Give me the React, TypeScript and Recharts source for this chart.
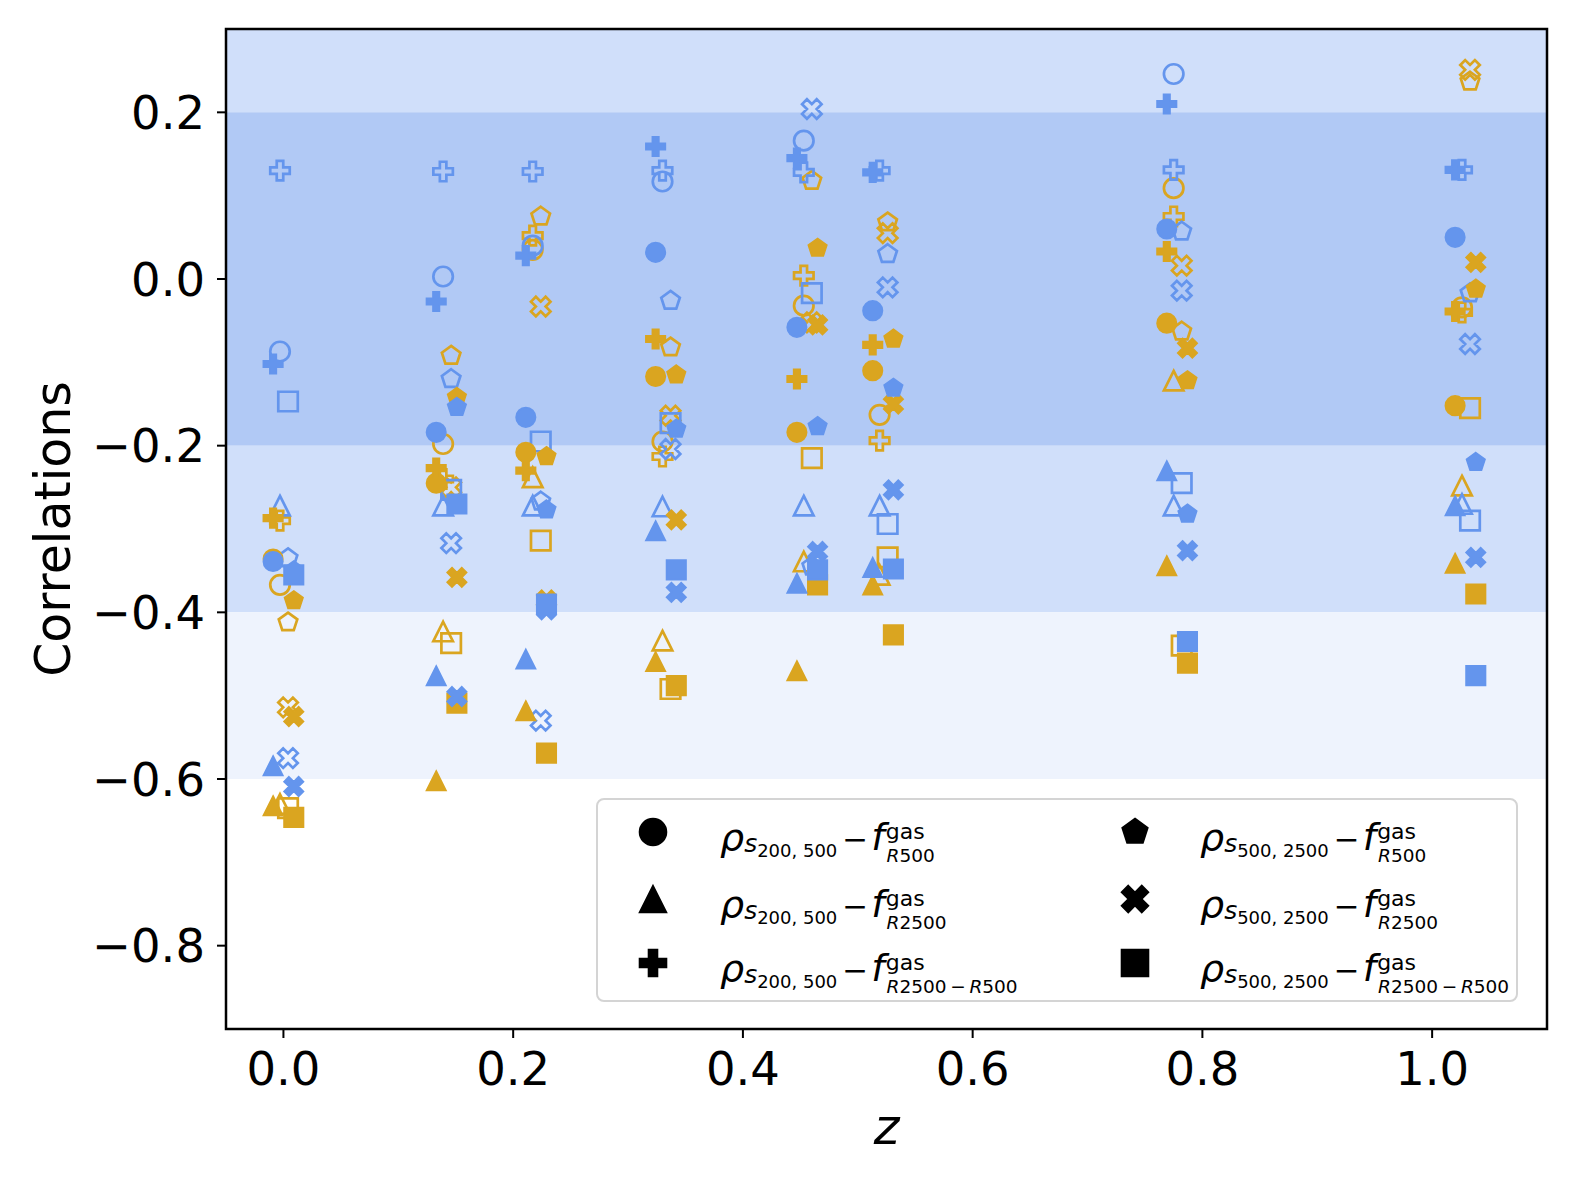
import { ScatterChart, Scatter, XAxis, YAxis, ReferenceArea, Legend } from "recharts"

const BLUE = "#6495ED"
const GOLD = "#DAA520"
const FONT = "DejaVu Sans"

// snapshot redshifts (x positions of the groups)
const redshifts = [0, 0.142, 0.22, 0.333, 0.456, 0.522, 0.778, 1.029]

// marker kinds, in legend order
const shapes = ["circle", "triangle", "plus", "pentagon", "x", "square"]
// small horizontal dodge so the symbols do not sit on top of each other
const dodgeFilled = [-0.009, -0.009, -0.009, 0.009, 0.009, 0.009]
const dodgeHollow = [-0.003, -0.003, -0.003, 0.004, 0.004, 0.004]

// blue, filled
const bfCircle = [-0.339, -0.184, -0.166, 0.032, -0.058, -0.038, 0.06, 0.05]
const bfTriangle = [-0.584, -0.476, -0.456, -0.302, -0.365, -0.346, -0.23, -0.272]
const bfPlus = [-0.102, -0.027, 0.028, 0.159, 0.145, 0.128, 0.21, 0.131]
const bfPentagon = [-0.35, -0.154, -0.277, -0.18, -0.177, -0.131, -0.282, -0.22]
const bfX = [-0.609, -0.501, -0.397, -0.376, -0.327, -0.253, -0.326, -0.334]
const bfSquare = [-0.355, -0.27, -0.39, -0.349, -0.349, -0.348, -0.435, -0.476]

// blue, hollow (null: not visible in the figure)
const bhCircle = [-0.087, 0.003, 0.04, 0.117, 0.166, null, 0.246, null]
const bhTriangle = [-0.272, -0.272, -0.272, -0.273, -0.272, -0.272, -0.272, -0.27]
const bhPlus = [0.13, 0.129, 0.129, 0.13, 0.128, 0.13, 0.131, 0.131]
const bhPentagon = [-0.335, -0.12, -0.267, -0.026, -0.345, 0.03, 0.057, -0.017]
const bhX = [-0.575, -0.317, -0.53, -0.204, 0.204, -0.01, -0.014, -0.078]
const bhSquare = [-0.147, -0.253, -0.195, -0.173, -0.017, -0.294, -0.245, -0.29]

// gold, filled
const gfCircle = [-0.336, -0.245, -0.208, -0.117, -0.184, -0.11, -0.053, -0.152]
const gfTriangle = [-0.632, -0.602, -0.518, -0.459, -0.47, -0.367, -0.344, -0.341]
const gfPlus = [-0.287, -0.227, -0.23, -0.072, -0.12, -0.079, 0.033, -0.039]
const gfPentagon = [-0.386, -0.142, -0.213, -0.115, 0.037, -0.072, -0.122, -0.012]
const gfX = [-0.525, -0.358, -0.385, -0.289, -0.055, -0.15, -0.083, 0.02]
const gfSquare = [-0.646, -0.509, -0.569, -0.488, -0.367, -0.427, -0.461, -0.378]

// gold, hollow
const ghCircle = [-0.367, -0.198, 0.035, -0.195, -0.032, -0.163, 0.109, -0.034]
const ghTriangle = [-0.63, -0.423, -0.238, -0.434, -0.339, -0.355, -0.122, -0.248]
const ghPlus = [-0.29, -0.24, 0.052, -0.213, 0.004, -0.194, 0.075, -0.04]
const ghPentagon = [-0.412, -0.092, 0.075, -0.082, 0.118, 0.068, -0.063, 0.237]
const ghX = [-0.514, -0.25, -0.033, -0.164, -0.052, 0.055, 0.016, 0.251]
const ghSquare = [-0.635, -0.437, -0.314, -0.492, -0.215, -0.334, -0.44, -0.155]

const xTicks = [0, 0.2, 0.4, 0.6, 0.8, 1.0]
const yTicks = [-0.8, -0.6, -0.4, -0.2, 0, 0.2]

// legend labels: rho_{s_{pair}} - f^{gas}_{radius}
const legendPairs = ["200, 500", "200, 500", "200, 500", "500, 2500", "500, 2500", "500, 2500"]
const legendRadii = [["R", "500"], ["R", "2500"], ["R", "2500\u2009\u2212\u2009", "R", "500"]]

// drawing order: gold hollow, blue hollow, gold filled, blue filled
const groups = [
  { color: GOLD, filled: false, values: [ghCircle, ghTriangle, ghPlus, ghPentagon, ghX, ghSquare] },
  { color: BLUE, filled: false, values: [bhCircle, bhTriangle, bhPlus, bhPentagon, bhX, bhSquare] },
  { color: GOLD, filled: true, values: [gfCircle, gfTriangle, gfPlus, gfPentagon, gfX, gfSquare] },
  { color: BLUE, filled: true, values: [bfCircle, bfTriangle, bfPlus, bfPentagon, bfX, bfSquare] },
]

const PLUS_PTS = [[-1, -3], [1, -3], [1, -1], [3, -1], [3, 1], [1, 1], [1, 3], [-1, 3], [-1, 1], [-3, 1], [-3, -1], [-1, -1]]
const X_PTS = [[-1, -2], [0, -1], [1, -2], [2, -1], [1, 0], [2, 1], [1, 2], [0, 1], [-1, 2], [-2, 1], [-1, 0], [-2, -1]]

function polyPath(pts: number[][], k: number, cx: number, cy: number) {
  return pts.map(([a, b], i) => `${i ? "L" : "M"}${cx + a * k},${cy + b * k}`).join("") + "Z"
}

function markerPath(kind: string, cx: number, cy: number, s: number) {
  const h = s / 2
  switch (kind) {
    case "triangle":
      return `M${cx},${cy - h}L${cx + h},${cy + h}L${cx - h},${cy + h}Z`
    case "plus":
      return polyPath(PLUS_PTS, s / 6, cx, cy)
    case "x":
      return polyPath(X_PTS, s / 4, cx, cy)
    case "pentagon": {
      const pts = [0, 1, 2, 3, 4].map((i) => {
        const a = -Math.PI / 2 + (i * 2 * Math.PI) / 5
        return [Math.cos(a), Math.sin(a)]
      })
      return polyPath(pts, h, cx, cy)
    }
    case "square":
      return `M${cx - h},${cy - h}L${cx + h},${cy - h}L${cx + h},${cy + h}L${cx - h},${cy + h}Z`
    default:
      return `M${cx - h},${cy}A${h},${h} 0 1 0 ${cx + h},${cy}A${h},${h} 0 1 0 ${cx - h},${cy}Z`
  }
}

function Marker({ cx, cy, kind, color, filled, size = 19.5, hidden }: any) {
  if (hidden || !Number.isFinite(cx) || !Number.isFinite(cy)) return null
  return (
    <path
      d={markerPath(kind, cx, cy, size)}
      fill={filled ? color : "none"}
      stroke={color}
      strokeWidth={filled ? 1.6 : 2.7}
      strokeLinejoin="miter"
    />
  )
}

const fmt = (v: number) => (v < -1e-9 ? "\u2212" : "") + Math.abs(v).toFixed(1)

function LegendLabel({ x, y, pair, radius }: { x: number; y: number; pair: string; radius: string[] }) {
  return (
    <text x={x} y={y} fontFamily={FONT} fill="#000">
      <tspan fontStyle="italic" fontSize={38}>ρ</tspan>
      <tspan fontStyle="italic" fontSize={25} dy={2}>s</tspan>
      <tspan fontSize={18} dy={5}>{pair}</tspan>
      <tspan fontSize={31} dy={-7} dx={5}>{"\u2212"}</tspan>
      <tspan fontStyle="italic" fontSize={38} dx={3}>f</tspan>
      <tspan fontSize={22} dy={-11} dx={1}>gas</tspan>
      {radius.map((t, i) => (
        <tspan
          key={i}
          fontSize={18.5}
          fontStyle={t === "R" ? "italic" : "normal"}
          dx={i === 0 ? -38 : 0}
          dy={i === 0 ? 23 : 0}
        >
          {t}
        </tspan>
      ))}
    </text>
  )
}

function LegendBox() {
  const rowsY = [32, 99, 163]
  return (
    <div
      style={{
        width: 922,
        height: 204,
        boxSizing: "border-box",
        border: "2px solid #d4d4d4",
        borderRadius: 8,
        background: "rgba(255,255,255,0.85)",
      }}
    >
      <svg width={918} height={200} style={{ display: "block" }}>
        {shapes.map((kind, i) => {
          const col = i < 3 ? 0 : 1
          const row = i % 3
          const mx = col ? 537 : 55
          const tx = col ? 602 : 122
          const cy = rowsY[row]
          return (
            <g key={kind}>
              <Marker cx={mx} cy={cy} kind={kind} color="#000" filled size={27} />
              <LegendLabel x={tx} y={cy + 18} pair={legendPairs[i]} radius={legendRadii[row]} />
            </g>
          )
        })}
      </svg>
    </div>
  )
}

export default function App() {
  return (
    <ScatterChart
      width={1560}
      height={1165}
      margin={{ top: 21, right: 21, left: 10, bottom: 24 }}
    >
      <XAxis
        type="number"
        dataKey="x"
        domain={[-0.05, 1.1]}
        ticks={xTicks}
        tickFormatter={fmt}
        allowDataOverflow
        height={120}
        axisLine={false}
        tickLine={{ stroke: "#000", strokeWidth: 2 }}
        tickSize={9}
        tickMargin={14}
        tick={{ fontSize: 46.5, fill: "#000", fontFamily: FONT }}
        label={{
          content: ({ viewBox }: any) => (
            <text
              x={viewBox.x + viewBox.width / 2}
              y={viewBox.y + 115}
              textAnchor="middle"
              fontSize={49}
              fontStyle="italic"
              fontFamily={FONT}
              fill="#000"
            >
              z
            </text>
          ),
        }}
      />
      <YAxis
        type="number"
        dataKey="y"
        domain={[-0.9, 0.3]}
        ticks={yTicks}
        tickFormatter={fmt}
        allowDataOverflow
        width={208}
        axisLine={false}
        tickLine={{ stroke: "#000", strokeWidth: 2 }}
        tickSize={9}
        tickMargin={12}
        tick={{ fontSize: 46.5, fill: "#000", fontFamily: FONT }}
        label={{
          content: ({ viewBox }: any) => {
            const x = viewBox.x + 52
            const y = viewBox.y + viewBox.height / 2
            return (
              <text
                x={x}
                y={y}
                transform={`rotate(-90, ${x}, ${y})`}
                textAnchor="middle"
                fontSize={49}
                fontFamily={FONT}
                fill="#000"
              >
                Correlations
              </text>
            )
          },
        }}
      />
      <ReferenceArea x1={-0.05} x2={1.1} y1={0.2} y2={0.3} fill="#d0dffa" fillOpacity={1} stroke="none" />
      <ReferenceArea x1={-0.05} x2={1.1} y1={-0.2} y2={0.2} fill="#b1c9f5" fillOpacity={1} stroke="none" />
      <ReferenceArea x1={-0.05} x2={1.1} y1={-0.4} y2={-0.2} fill="#d0dffa" fillOpacity={1} stroke="none" />
      <ReferenceArea x1={-0.05} x2={1.1} y1={-0.6} y2={-0.4} fill="#eef3fd" fillOpacity={1} stroke="none" />
      <ReferenceArea x1={-0.05} x2={1.1} y1={-0.9} y2={0.3} fill="none" stroke="#000" strokeWidth={2.5} />
      {groups.flatMap((g, gi) =>
        shapes.map((kind, si) => {
          const dodge = g.filled ? dodgeFilled[si] : dodgeHollow[si]
          const data = redshifts
            .map((z, i) => ({ x: z + dodge, y: g.values[si][i] }))
            .filter((d) => d.y != null)
          return (
            <Scatter
              key={`${gi}-${kind}`}
              data={data}
              isAnimationActive={false}
              shape={(p: any) => <Marker cx={p.cx} cy={p.cy} kind={kind} color={g.color} filled={g.filled} />}
            />
          )
        })
      )}
      <Legend
        layout="horizontal"
        verticalAlign="middle"
        align="center"
        content={() => <LegendBox />}
        wrapperStyle={{ left: 588, top: 790, width: 922, height: 204 }}
      />
    </ScatterChart>
  )
}
